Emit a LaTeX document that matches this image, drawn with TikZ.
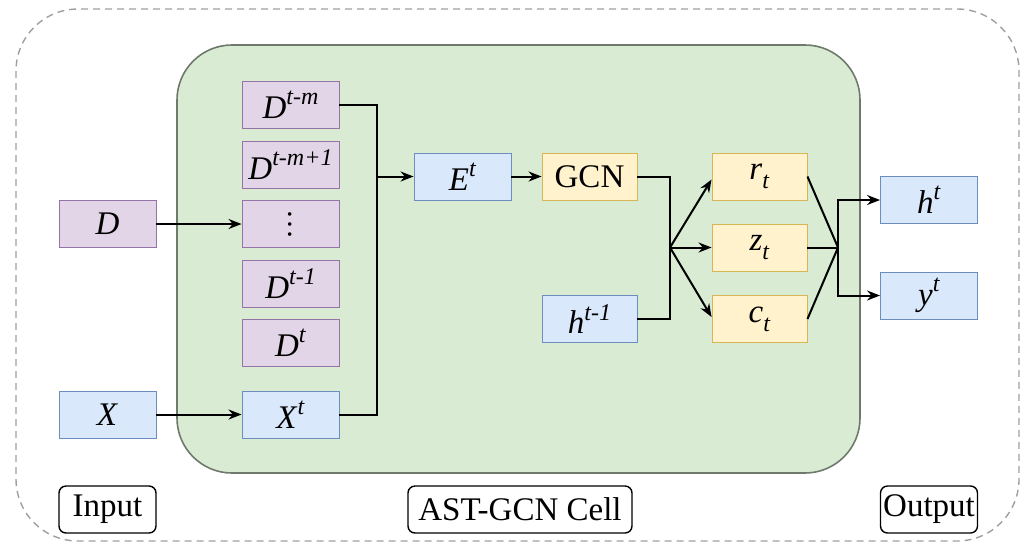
\documentclass[tikz,border=0pt]{standalone}
\usepackage{fontspec}
\setmainfont{Liberation Serif}
\newfontfamily\tms{Liberation Serif}
\usepackage{graphicx}
\usetikzlibrary{arrows.meta}
\definecolor{pfill}{HTML}{E1D5E7}\definecolor{pdraw}{HTML}{9673A6}
\definecolor{bfill}{HTML}{DAE8FC}\definecolor{bdraw}{HTML}{6C8EBF}
\definecolor{yfill}{HTML}{FFF2CC}\definecolor{ydraw}{HTML}{D6B656}
\definecolor{gfill}{HTML}{D9EBD3}\definecolor{gdraw}{HTML}{6F7A6C}
\newcommand{\mysup}[2]{\textit{#1}\raisebox{0.42em}{\fontsize{24}{24}\selectfont\textit{#2}}}
\newcommand{\mysub}[2]{\textit{#1}\raisebox{-0.28em}{\fontsize{24}{24}\selectfont\textit{#2}}}
\newcommand{\vdotsbox}{\rotatebox[origin=c]{90}{\fontsize{30}{30}\selectfont …}}
\begin{document}
\begin{tikzpicture}[x=1pt,y=-1pt,
  every node/.style={font=\tms\fontsize{33}{33}\selectfont},
  box/.style={draw,line width=0.9pt,minimum width=97pt,minimum height=47pt,inner sep=0pt},
  pbox/.style={box,fill=pfill,draw=pdraw},
  bbox/.style={box,fill=bfill,draw=bdraw},
  ybox/.style={box,fill=yfill,draw=ydraw,minimum width=95pt},
  lbox/.style={draw,line width=1.4pt,rounded corners=7pt,fill=white,minimum width=97pt,minimum height=47pt,inner sep=2pt},
  line/.style={line width=2pt},
  arr/.style={line,-{Stealth[length=13pt,width=10pt]}}]
\useasboundingbox (0,0) rectangle (1030,542);
\draw[gray!75,line width=1.4pt,dash pattern=on 7pt off 5pt,rounded corners=62pt] (16,9) rectangle (1019,541);
\draw[gdraw,fill=gfill,line width=1.6pt,rounded corners=55pt] (177,45) rectangle (860,473);
\node[pbox] (Dtm) at (290.5,104.5) {\mysup{D}{t-m}};
\node[pbox] (Dtm1) at (290.5,164.5) {\mysup{D}{t-m+1}};
\node[pbox] (Ddots) at (290.5,224) {\vdotsbox};
\node[pbox] (Dt1) at (290.5,283.5) {\mysup{D}{t-1}};
\node[pbox] (Dt) at (290.5,343) {\mysup{D}{t}};
\node[bbox] (Xt) at (290.5,414.5) {\mysup{X}{t}};
\node[pbox] (D) at (107.5,224) {\textit{D}};
\node[bbox] (X) at (107.5,414.5) {\textit{X}};
\node[bbox] (E) at (462.5,176.5) {\mysup{E}{t}};
\node[ybox] (GCN) at (589.5,176.5) {GCN};
\node[bbox,minimum width=95pt] (h1) at (589.5,319) {\mysup{h}{t-1}};
\node[ybox] (r) at (759.5,176.5) {\mysub{r}{t}};
\node[ybox] (z) at (759.5,247.5) {\mysub{z}{t}};
\node[ybox] (c) at (759.5,319) {\mysub{c}{t}};
\node[bbox] (ht) at (929,200) {\mysup{h}{t}};
\node[bbox] (yt) at (929,295.5) {\mysup{y}{t}};
\node[lbox] (inp) at (107.5,509.5) {Input};
\node[lbox,minimum width=224pt] (cell) at (520,509.5) {AST-GCN Cell};
\node[lbox] (out) at (929,509.5) {Output};
\coordinate (bus) at (377,176.5);
\coordinate (j1) at (670,247.5);
\coordinate (j2) at (838,247.5);
\draw[arr] (D) -- (Ddots);
\draw[arr] (X) -- (Xt);
\draw[line] (Dtm.east) -| (bus) |- (Xt.east);
\draw[arr] (bus) -- (E);
\draw[arr] (E) -- (GCN);
\draw[line] (GCN.east) -| (j1) |- (h1.east);
\draw[arr] (j1) -- ([yshift=-3pt]r.west);
\draw[arr] (j1) -- (z.west);
\draw[arr] (j1) -- ([yshift=2pt]c.west);
\draw[line] (r.east) -- (j2);
\draw[line] (z.east) -- (j2);
\draw[line] (c.east) -- (j2);
\draw[arr] (j2) |- (ht.west);
\draw[arr] (j2) |- (yt.west);
\end{tikzpicture}
\end{document}
